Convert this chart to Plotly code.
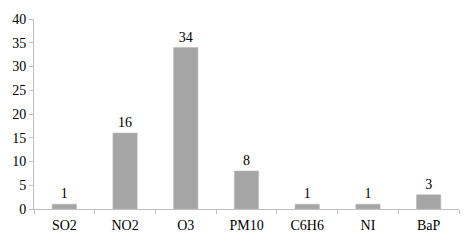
import plotly.graph_objects as go

categories = ["SO2", "NO2", "O3", "PM10", "C6H6", "NI", "BaP"]
values = [1, 16, 34, 8, 1, 1, 3]
y_ticks = [0, 5, 10, 15, 20, 25, 30, 35, 40]

font_family = "Liberation Serif"

fig = go.Figure(
    go.Bar(
        x=categories,
        y=values,
        marker=dict(color="#a5a5a5", line=dict(color="#b8b8b8", width=0.6)),
        width=0.4,
        text=[str(v) for v in values],
        textposition="outside",
        textfont=dict(family=font_family, size=14, color="#000000"),
        cliponaxis=False,
    )
)

fig.update_layout(
    width=475,
    height=245,
    margin=dict(l=34, r=16, t=14, b=35),
    paper_bgcolor="white",
    plot_bgcolor="white",
    showlegend=False,
    font=dict(family=font_family, size=14, color="#000000"),
)

fig.update_xaxes(
    type="category",
    showline=True,
    linecolor="#bfbfbf",
    linewidth=1,
    ticks="outside",
    tickson="boundaries",
    ticklen=4,
    tickcolor="#bfbfbf",
    showgrid=False,
    ticklabelstandoff=3,
    tickfont=dict(family=font_family, size=14, color="#000000"),
)

fig.update_yaxes(
    range=[0, 40],
    tickvals=y_ticks,
    showline=True,
    linecolor="#bfbfbf",
    linewidth=1,
    ticks="outside",
    ticklen=4,
    tickcolor="#bfbfbf",
    showgrid=False,
    zeroline=False,
    tickfont=dict(family=font_family, size=14, color="#000000"),
)

fig.write_html("out.html")
